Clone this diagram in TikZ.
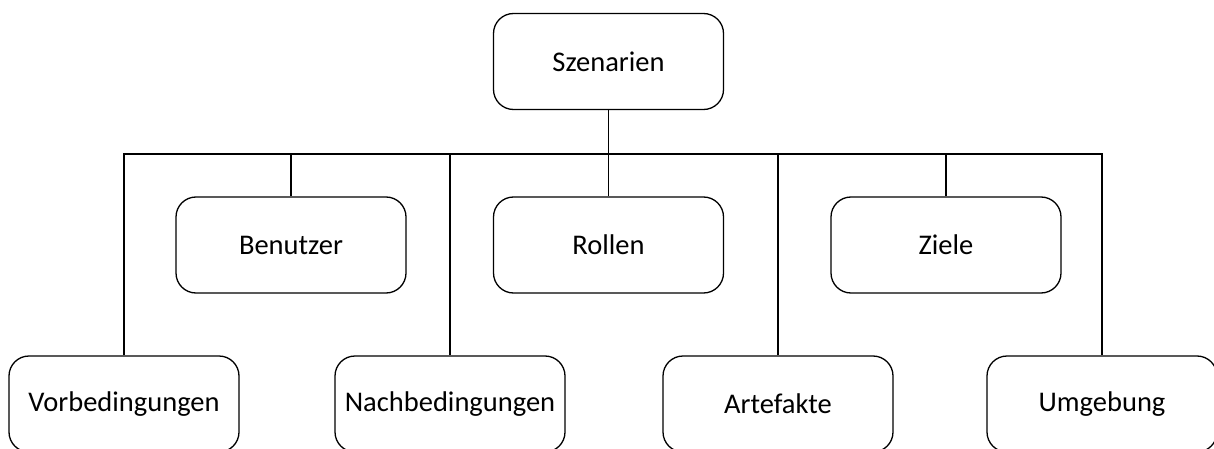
\documentclass[tikz,border=0pt]{standalone}
\usepackage{fontspec}
\setmainfont{Carlito}
\begin{document}
\begin{tikzpicture}[x=1pt, y=-1pt,
  box/.style={draw, line width=1.3pt, rounded corners=20pt,
    minimum width=230pt, minimum height=96pt, inner sep=0pt,
    font=\fontsize{28.5}{34}\selectfont},
  link/.style={line width=1.3pt}]

  \useasboundingbox (0,0) rectangle (1214,449);
  \clip (0,0) rectangle (1214,449);

  % root
  \node[box] (szen) at (608.5, 61.5) {Szenarien};

  % middle row
  \node[box] (ben) at (291, 245) {Benutzer};
  \node[box] (rol) at (608.5, 245) {Rollen};
  \node[box] (ziel) at (946, 245) {Ziele};

  % bottom row
  \node[box] (vor) at (124, 404) {Vorbedingungen};
  \node[box] (nach) at (450, 404) {Nachbedingungen};
  \node[box] (art) at (778, 404) {Artefakte};
  \node[box] (umg) at (1102, 404) {Umgebung};

  \coordinate (bus) at (0, 154);

  % bus line and drops
  \draw[link] (szen.south) -- (szen.south |- bus);
  \draw[link] (vor.north) -- (vor.north |- bus) -- (umg.north |- bus) -- (umg.north);
  \foreach \n in {ben, rol, ziel, nach, art}
    \draw[link] (\n.north) -- (\n.north |- bus);

\end{tikzpicture}
\end{document}
